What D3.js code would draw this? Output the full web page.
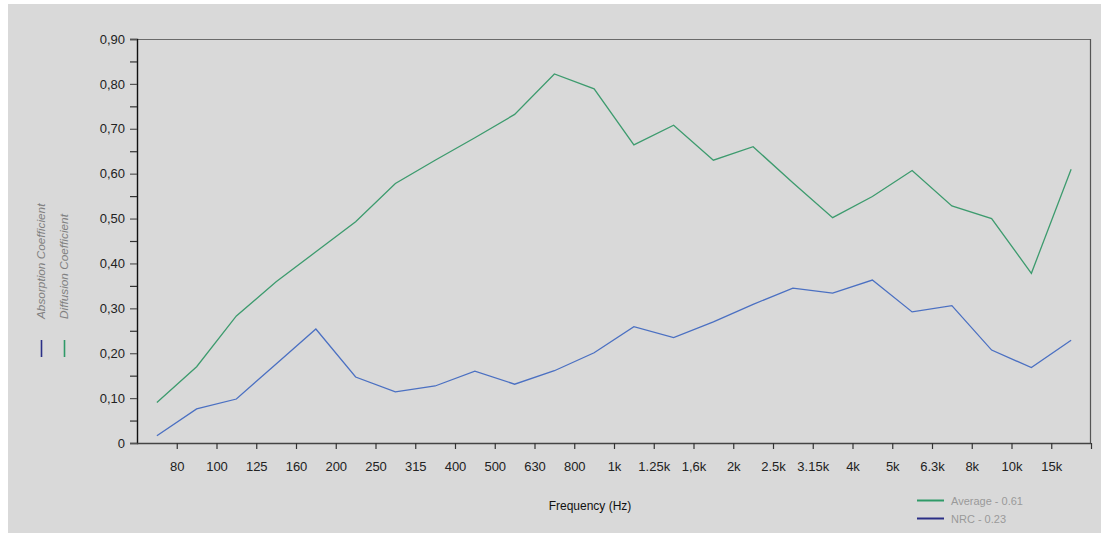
<!DOCTYPE html>
<html>
<head>
<meta charset="utf-8">
<script src="https://cdn.jsdelivr.net/npm/d3@7"></script>
<style>
  html, body { margin: 0; padding: 0; background: #ffffff; }
  svg { display: block; font-family: "Liberation Sans", Arial, Helvetica, sans-serif; }
</style>
</head>
<body>
<svg id="chart" width="1101" height="533"></svg>
<script>
// One-third-octave band boundaries labelled along the frequency axis
const tickLabels = ["80", "100", "125", "160", "200", "250", "315", "400", "500", "630", "800",
  "1k", "1.25k", "1,6k", "2k", "2.5k", "3.15k", "4k", "5k", "6.3k", "8k", "10k", "15k"];

// Diffusion coefficient per band (24 bands)
const diffusion = [0.090, 0.170, 0.283, 0.359, 0.426, 0.493, 0.578, 0.630, 0.680, 0.732,
  0.822, 0.789, 0.664, 0.708, 0.630, 0.660, 0.580, 0.502, 0.549, 0.607,
  0.528, 0.500, 0.378, 0.610];

// Absorption coefficient per band (24 bands)
const absorption = [0.016, 0.076, 0.098, 0.176, 0.254, 0.147, 0.114, 0.127, 0.160, 0.131,
  0.161, 0.201, 0.259, 0.235, 0.270, 0.309, 0.345, 0.334, 0.363, 0.292,
  0.306, 0.207, 0.168, 0.229];

const yTicks = [0, 0.1, 0.2, 0.3, 0.4, 0.5, 0.6, 0.7, 0.8, 0.9];
const legendItems = [
  { label: "Average - 0.61", color: "#2f9a68" },
  { label: "NRC - 0.23", color: "#2b2f86" }
];

const svg = d3.select("#chart");

// panel background
svg.append("rect").attr("x", 8).attr("y", 4).attr("width", 1093).attr("height", 529)
  .attr("fill", "#d9d9d9");

const plotLeft = 137, plotRight = 1091, plotTop = 39, plotBottom = 443;
const nBands = diffusion.length;

const x = d3.scaleLinear().domain([0, nBands]).range([plotLeft, plotRight]);
const y = d3.scaleLinear().domain([0, 0.9]).range([plotBottom, plotTop]);

// frame: top and right edges
svg.append("line").attr("x1", plotLeft).attr("x2", plotRight)
  .attr("y1", plotTop + 0.5).attr("y2", plotTop + 0.5)
  .attr("stroke", "#6a6a6a").attr("stroke-width", 1.2);
svg.append("line").attr("x1", plotRight - 0.5).attr("x2", plotRight - 0.5)
  .attr("y1", plotTop).attr("y2", plotBottom)
  .attr("stroke", "#555").attr("stroke-width", 1.2);

// y axis with labelled majors and unlabelled minors
const fmtY = v => v === 0 ? "0" : d3.format(".2f")(v).replace(".", ",");
const yAxis = d3.axisLeft(y).tickValues(yTicks).tickFormat(fmtY).tickSize(7).tickPadding(5);
const gy = svg.append("g").attr("transform", `translate(${plotLeft},0)`).call(yAxis);
gy.select(".domain").attr("stroke", "#111").attr("stroke-width", 1.4);
gy.selectAll(".tick line").attr("stroke", "#555").attr("stroke-width", 1.2);
gy.selectAll(".tick text").attr("fill", "#222").style("font-size", "13px");
const minor = d3.range(0.05, 0.9, 0.1);
const gyMinor = svg.append("g").attr("transform", `translate(${plotLeft},0)`)
  .call(d3.axisLeft(y).tickValues(minor).tickFormat("").tickSize(7));
gyMinor.select(".domain").remove();
gyMinor.selectAll(".tick line").attr("stroke", "#333").attr("stroke-width", 1.2);

// x axis: ticks at band boundaries
const boundaries = d3.range(1, nBands + 1);
const xAxis = d3.axisBottom(x).tickValues(boundaries)
  .tickFormat(d => tickLabels[d - 1] || "").tickSize(6).tickPadding(13);
const gx = svg.append("g").attr("transform", `translate(0,${plotBottom})`).call(xAxis);
gx.select(".domain").attr("stroke", "#444").attr("stroke-width", 1.4)
  .attr("d", `M${plotLeft},0.5H${plotRight}`);
gx.selectAll(".tick line").attr("stroke", "#333").attr("stroke-width", 1.2);
gx.selectAll(".tick text").attr("fill", "#222").style("font-size", "13px");

// series lines at band centres
const line = d3.line().x((d, i) => x(i + 0.5)).y(d => y(d));
svg.append("path").datum(diffusion).attr("d", line)
  .attr("fill", "none").attr("stroke", "#3d9b6e").attr("stroke-width", 1.3);
svg.append("path").datum(absorption).attr("d", line)
  .attr("fill", "none").attr("stroke", "#4b70c2").attr("stroke-width", 1.3);

// x axis title
svg.append("text").attr("x", 590).attr("y", 510).attr("text-anchor", "middle")
  .attr("fill", "#111").style("font-size", "12px").text("Frequency (Hz)");

// rotated series titles with colour marks
const sideTitles = [
  { label: "Absorption Coefficient", x: 45, color: "#2b2f86" },
  { label: "Diffusion Coefficient", x: 68, color: "#2f9a68" }
];
sideTitles.forEach(t => {
  svg.append("text").attr("transform", `translate(${t.x},319) rotate(-90)`)
    .attr("text-anchor", "start").attr("fill", "#808080")
    .style("font-size", "11.8px").style("font-style", "italic").text(t.label);
  svg.append("line").attr("x1", t.x - 3.5).attr("x2", t.x - 3.5).attr("y1", 340).attr("y2", 357)
    .attr("stroke", t.color).attr("stroke-width", 1.6);
});

// legend
legendItems.forEach((d, i) => {
  const ly = 500.5 + i * 18;
  svg.append("line").attr("x1", 917).attr("x2", 944).attr("y1", ly).attr("y2", ly)
    .attr("stroke", d.color).attr("stroke-width", 2);
  svg.append("text").attr("x", 951).attr("y", ly + 4).attr("fill", "#9a9a9a")
    .style("font-size", "11px").text(d.label);
});
</script>
</body>
</html>
